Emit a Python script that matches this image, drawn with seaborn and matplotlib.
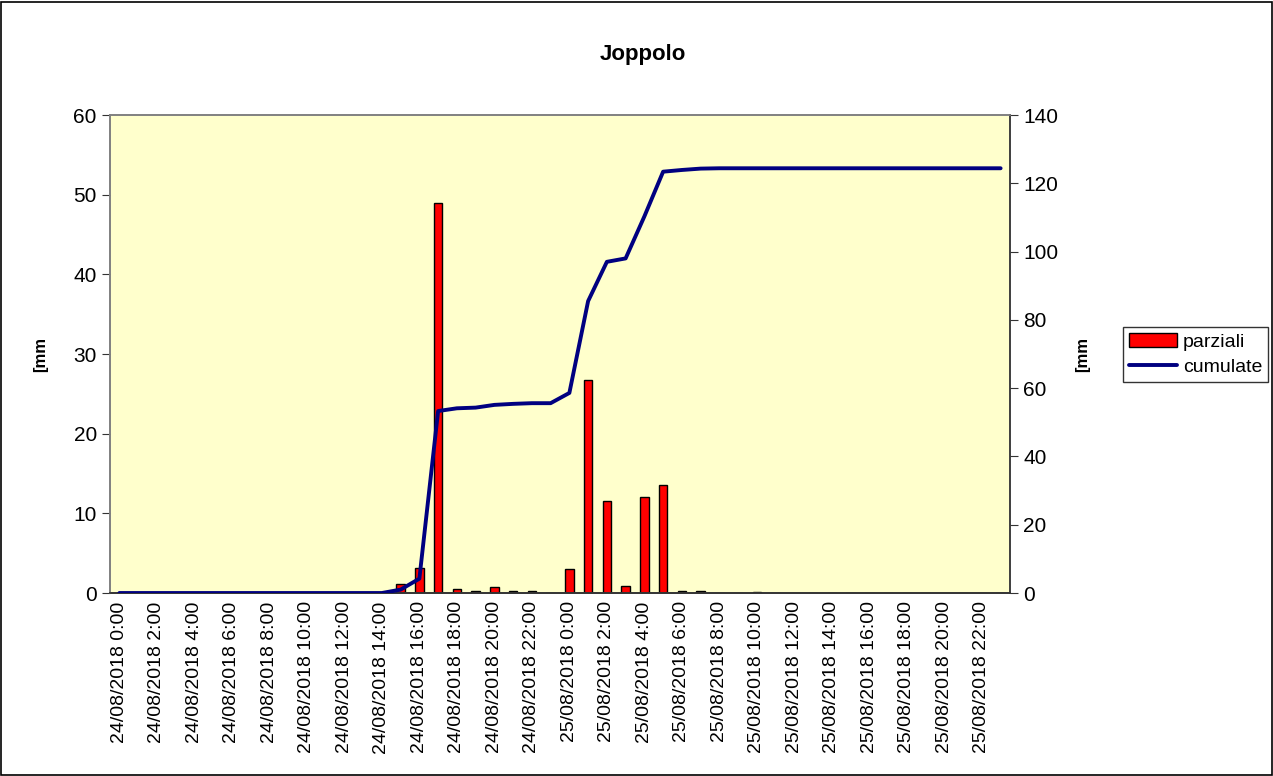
import numpy as np
import pandas as pd
import matplotlib
matplotlib.use("Agg")
import matplotlib.pyplot as plt
import seaborn as sns
from matplotlib.lines import Line2D
from matplotlib.patches import Patch, Rectangle

# ==========================================
# DATA (hourly rainfall, Joppolo)
# ==========================================
hours = [f"{d}/08/2018 {h}:00" for d in (24, 25) for h in range(24)]

parziali = [0, 0, 0, 0, 0, 0, 0, 0, 0, 0, 0, 0, 0, 0, 0, 1.1,
            3.1, 49.0, 0.5, 0.2, 0.8, 0.2, 0.2, 0, 3.0, 26.7,
            11.5, 0.9, 12.1, 13.5, 0.3, 0.3, 0, 0, 0.1, 0,
            0, 0, 0, 0, 0, 0, 0, 0, 0, 0, 0, 0]

cumulate = [0, 0, 0, 0, 0, 0, 0, 0, 0, 0, 0, 0, 0, 0, 0, 1.0,
            4.2, 53.3, 54.1, 54.3, 55.1, 55.4, 55.6, 55.6, 58.6, 85.5,
            97.0, 98.0, 110.3, 123.4, 123.9, 124.3, 124.4, 124.4, 124.4, 124.4,
            124.4, 124.4, 124.4, 124.4, 124.4, 124.4, 124.4, 124.4, 124.4, 124.4, 124.4, 124.4]

title = "Joppolo"
y_label = "[mm"

df = pd.DataFrame({"idx": range(len(hours)), "ora": hours,
                   "parziali": parziali, "cumulate": cumulate})

# ==========================================
# PLOT
# ==========================================
sns.set_style("white")
plt.rcParams["font.family"] = ["Liberation Sans", "DejaVu Sans"]
plt.rcParams["text.color"] = "black"
plt.rcParams["xtick.color"] = "black"
plt.rcParams["ytick.color"] = "black"
plt.rcParams["axes.labelcolor"] = "black"

fig = plt.figure(figsize=(12.73, 7.76), dpi=100)
ax = fig.add_axes([0.0864, 0.2358, 0.7070, 0.6160])
ax.set_facecolor("#FFFFCC")

sns.barplot(data=df, x="idx", y="parziali", color="#FF0000", width=0.45,
            edgecolor="black", linewidth=1.0, saturation=1, ax=ax, zorder=2)

ax2 = ax.twinx()
sns.lineplot(data=df, x="idx", y="cumulate", color="#000080", linewidth=2.8,
             ax=ax2, zorder=3)

ax.set_xlim(-0.5, len(hours) - 0.5)
ax.set_ylim(0, 60)
ax2.set_ylim(0, 140)
ax.set_yticks(np.arange(0, 61, 10))
ax2.set_yticks(np.arange(0, 141, 20))

# labels every 2 hours, tick marks at category boundaries
ax.set_xticks(range(0, len(hours), 2))
ax.set_xticklabels(hours[::2], rotation=90, fontsize=14)
ax.set_xticks(np.arange(-0.5, len(hours), 1), minor=True)
ax.tick_params(axis="x", which="major", length=0, pad=6)
ax.tick_params(axis="x", which="minor", length=8, direction="inout", color="#333333")
ax.tick_params(axis="y", labelsize=15, length=6, direction="out", left=True, color="#333333")
ax2.tick_params(axis="y", labelsize=15, length=6, direction="out", right=True, color="#333333")

ax.set_xlabel("")
ax.set_ylabel(y_label, fontsize=12, fontweight="bold", labelpad=18)
ax2.set_ylabel(y_label, fontsize=12, fontweight="bold", labelpad=12)

for a in (ax, ax2):
    for s in a.spines.values():
        s.set_color("#808080")
        s.set_linewidth(1.2)
ax.spines["bottom"].set_color("#333333")
ax2.spines["bottom"].set_color("#333333")
ax2.spines["right"].set_color("#333333")

fig.suptitle(title, x=0.505, y=0.943, fontsize=16, fontweight="bold")

handles = [Patch(facecolor="#FF0000", edgecolor="black", label="parziali"),
           Line2D([], [], color="#000080", linewidth=2.8, label="cumulate")]
fig.legend(handles=handles, loc="center left", bbox_to_anchor=(0.882, 0.543),
           fontsize=14, frameon=True, fancybox=False, edgecolor="black",
           handlelength=2.5, borderpad=0.3, labelspacing=0.4, handletextpad=0.3,
           borderaxespad=0)

# outer chart border
fig.patches.append(Rectangle((0.001, 0.001), 0.998, 0.997, transform=fig.transFigure,
                             fill=False, edgecolor="black", linewidth=1.2))

fig.savefig("out.png", dpi=100)
